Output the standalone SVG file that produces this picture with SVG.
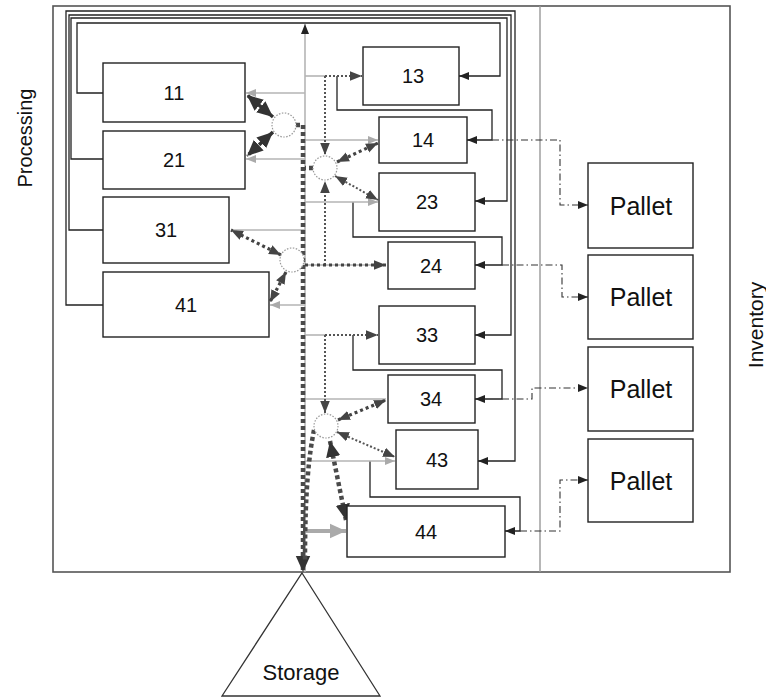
<svg xmlns="http://www.w3.org/2000/svg" width="766" height="700" viewBox="0 0 766 700">
<style>
  text{font-family:"Liberation Sans",Arial,sans-serif;fill:#111;text-anchor:middle;dominant-baseline:central}
  .box{fill:#fff;stroke:#222;stroke-width:1.4}
  .frame{fill:none;stroke:#555;stroke-width:1.6}
  .blk{fill:none;stroke:#222;stroke-width:1.3}
  .dd{fill:none;stroke:#333;stroke-width:1.1;stroke-dasharray:7,3,1.5,3}
  .gry{fill:none;stroke:#b5b5b5;stroke-width:1.6}
  .dot{fill:none;stroke:#555;stroke-width:2;stroke-dasharray:2,2}
  .dot3{fill:none;stroke:#444;stroke-width:3.2;stroke-dasharray:3,3}
  .heavy{fill:none;stroke:#4a4a4a;stroke-width:4.5;stroke-dasharray:4,3}
  .bold{fill:none;stroke:#333;stroke-width:3.5;stroke-dasharray:5,2}
  .circ{fill:#fff;stroke:#999;stroke-width:1.2;stroke-dasharray:1.5,1.5}
</style>
<defs>
  <marker id="aB" markerUnits="userSpaceOnUse" markerWidth="10" markerHeight="10" viewBox="0 0 10 10" refX="10" refY="5" orient="auto-start-reverse"><path d="M0,1 L10,5 L0,9 Z" fill="#222"/></marker>
  <marker id="aG" markerUnits="userSpaceOnUse" markerWidth="10" markerHeight="10" viewBox="0 0 10 10" refX="10" refY="5" orient="auto-start-reverse"><path d="M0,1 L10,5 L0,9 Z" fill="#aaa"/></marker>
  <marker id="aD" markerUnits="userSpaceOnUse" markerWidth="12" markerHeight="12" viewBox="0 0 10 10" refX="10" refY="5" orient="auto-start-reverse"><path d="M0,1 L10,5 L0,9 Z" fill="#444"/></marker>
  <marker id="aL" markerUnits="userSpaceOnUse" markerWidth="16" markerHeight="16" viewBox="0 0 10 10" refX="10" refY="5" orient="auto-start-reverse"><path d="M0,0.5 L10,5 L0,9.5 Z" fill="#333"/></marker>
  <marker id="aLG" markerUnits="userSpaceOnUse" markerWidth="16" markerHeight="16" viewBox="0 0 10 10" refX="10" refY="5" orient="auto-start-reverse"><path d="M0,0.5 L10,5 L0,9.5 Z" fill="#aaa"/></marker>
</defs>
<rect width="766" height="700" fill="#fff"/>

<g id="frame">
  <rect class="frame" x="53" y="6" width="677" height="566"/>
  <line x1="540" y1="6" x2="540" y2="572" stroke="#999" stroke-width="1.4"/>
  <text x="25" y="138" font-size="20" transform="rotate(-90 25 138)">Processing</text>
  <text x="755" y="325" font-size="21" transform="rotate(-90 755 325)">Inventory</text>
</g>

<g id="connectors">
  <!-- main gray spine -->
  <path class="gry" d="M305,572 V24" marker-end="url(#aB)"/>
  <!-- black nested connectors -->
  <path class="blk" d="M103,93 H77 V23 H500 V76 H459" marker-end="url(#aB)"/>
  <path class="blk" d="M103,159 H71 V18 H507 V201 H475" marker-end="url(#aB)"/>
  <path class="blk" d="M103,230 H69 V15 H511 V335 H475" marker-end="url(#aB)"/>
  <path class="blk" d="M103,305 H66 V11 H515 V461 H478" marker-end="url(#aB)"/>
  <path class="blk" d="M337,76 V110 H492 V140 H467" marker-end="url(#aB)"/>
  <path class="blk" d="M353,202 V237 H502 V265 H475" marker-end="url(#aB)"/>
  <path class="blk" d="M353,335 V370 H502 V399 H475" marker-end="url(#aB)"/>
  <path class="blk" d="M370,461 V497 H520 V531 H505" marker-end="url(#aB)"/>
  <!-- dash-dot to pallets -->
  <path class="dd" d="M492,140 H560 V205 H588" marker-end="url(#aB)"/>
  <path class="dd" d="M502,265 H562 V297 H588" marker-end="url(#aB)"/>
  <path class="dd" d="M502,399 H532 V388 H588" marker-end="url(#aB)"/>
  <path class="dd" d="M520,531 H560 V480 H588" marker-end="url(#aB)"/>
  <!-- gray branches -->
  <path class="gry" d="M305,93 H246" marker-end="url(#aG)"/>
  <path class="gry" d="M305,159 H246" marker-end="url(#aG)"/>
  <path class="gry" d="M305,76 H325"/>
  <path class="gry" d="M305,140 H378" marker-end="url(#aG)"/>
  <path class="gry" d="M305,202 H378" marker-end="url(#aG)"/>
  <path class="gry" d="M305,230 H231"/>
  <path class="gry" d="M305,265 H386"/>
  <path class="gry" d="M305,305 H270" marker-end="url(#aG)"/>
  <path class="gry" d="M305,335 H325"/>
  <path class="gry" d="M305,399 H386"/>
  <path class="gry" d="M305,461 H395" marker-end="url(#aG)"/>
  <path d="M305,531 H346" fill="none" stroke="#aaa" stroke-width="4" marker-end="url(#aLG)"/>
  <!-- fine dotted -->
  <path class="dot" d="M325,76 H362" marker-end="url(#aD)"/>
  <path class="dot" d="M325,76 V155" marker-end="url(#aD)"/>
  <path class="dot" d="M325,265 V181" marker-end="url(#aD)"/>
  <path class="dot" d="M325,335 H378" marker-end="url(#aD)"/>
  <path class="dot" d="M325,335 V413" marker-end="url(#aD)"/>
  <path class="dot" d="M335,176 L378,200" marker-start="url(#aD)" marker-end="url(#aD)"/>
  <path class="dot" d="M337,432 L395,457" marker-start="url(#aD)" marker-end="url(#aD)"/>
  <!-- medium dotted -->
  <path class="dot3" d="M337,162 L378,143" marker-start="url(#aD)" marker-end="url(#aD)"/>
  <path class="dot3" d="M281,255 L231,230" marker-start="url(#aD)" marker-end="url(#aD)"/>
  <path class="dot3" d="M286,272 L270,302" marker-start="url(#aD)" marker-end="url(#aD)"/>
  <path class="dot3" d="M305,265 H386" marker-end="url(#aD)"/>
  <path class="dot3" d="M338,420 L386,400" marker-start="url(#aD)" marker-end="url(#aD)"/>
  <!-- bold arrows at C1 -->
  <path class="bold" d="M273,117 L247,95" marker-start="url(#aL)" marker-end="url(#aL)"/>
  <path class="bold" d="M273,132 L247,156" marker-start="url(#aL)" marker-end="url(#aL)"/>
  <!-- heavy dashed to storage -->
  <path class="heavy" d="M296,125 H303 V572" marker-end="url(#aL)"/>
  <path class="heavy" d="M313,168 H305"/>
  <path class="heavy" d="M314,430 C309,455 305,490 305,560"/>
  <path class="heavy" d="M330,441 L346,520" marker-start="url(#aL)" marker-end="url(#aL)"/>
</g>

<g id="c1"><circle class="circ" cx="284" cy="125" r="12"/></g>
<g id="c2"><circle class="circ" cx="325" cy="168" r="12"/></g>
<g id="c3"><circle class="circ" cx="292" cy="260" r="12"/></g>
<g id="c4"><circle class="circ" cx="326" cy="426" r="12"/></g>

<g id="n11"><rect class="box" x="103" y="63" width="142" height="59"/><text x="174" y="93" font-size="20">11</text></g>
<g id="n21"><rect class="box" x="103" y="131" width="142" height="58"/><text x="174" y="160" font-size="20">21</text></g>
<g id="n31"><rect class="box" x="103" y="197" width="126" height="66"/><text x="166" y="230" font-size="20">31</text></g>
<g id="n41"><rect class="box" x="103" y="272" width="166" height="65"/><text x="186" y="305" font-size="20">41</text></g>
<g id="n13"><rect class="box" x="363" y="47" width="96" height="58"/><text x="413" y="76" font-size="20">13</text></g>
<g id="n14"><rect class="box" x="379" y="117" width="88" height="46"/><text x="423" y="140" font-size="20">14</text></g>
<g id="n23"><rect class="box" x="379" y="173" width="96" height="58"/><text x="427" y="202" font-size="20">23</text></g>
<g id="n24"><rect class="box" x="388" y="242" width="87" height="47"/><text x="431" y="266" font-size="20">24</text></g>
<g id="n33"><rect class="box" x="379" y="306" width="96" height="58"/><text x="427" y="335" font-size="20">33</text></g>
<g id="n34"><rect class="box" x="388" y="375" width="87" height="48"/><text x="431" y="399" font-size="20">34</text></g>
<g id="n43"><rect class="box" x="396" y="430" width="82" height="59"/><text x="437" y="460" font-size="20">43</text></g>
<g id="n44"><rect class="box" x="347" y="506" width="158" height="51"/><text x="426" y="532" font-size="20">44</text></g>

<g id="p1"><rect class="box" x="588" y="163" width="105" height="85"/><text x="641" y="206" font-size="25">Pallet</text></g>
<g id="p2"><rect class="box" x="588" y="255" width="105" height="84"/><text x="641" y="297" font-size="25">Pallet</text></g>
<g id="p3"><rect class="box" x="588" y="347" width="105" height="84"/><text x="641" y="389" font-size="25">Pallet</text></g>
<g id="p4"><rect class="box" x="588" y="439" width="105" height="83"/><text x="641" y="481" font-size="25">Pallet</text></g>

<g id="storage"><path d="M302,573 L380,696 L222,696 Z" fill="#fff" stroke="#333" stroke-width="1.3"/><text x="301" y="672" font-size="22">Storage</text></g>
</svg>
